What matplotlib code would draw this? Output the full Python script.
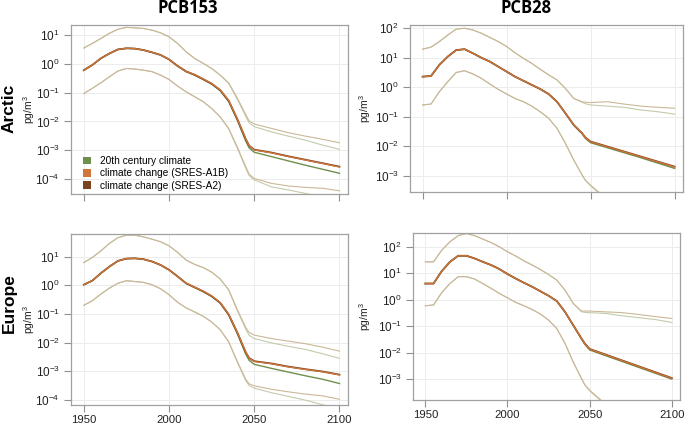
import numpy as np
import matplotlib
matplotlib.use("Agg")
import matplotlib.pyplot as plt
from matplotlib.patches import Patch

# ---------------- data (log10 of pg/m^3) ----------------
YEARS = [1950, 1955, 1960, 1965, 1970, 1975, 1980, 1985, 1990, 1995, 2000,
         2005, 2010, 2015, 2020, 2025, 2030, 2035, 2040, 2045, 2047,
         2050, 2060, 2070, 2080, 2090, 2100]

# Arctic PCB153
arc153_mid_20c = [-0.22, -0.04, 0.19, 0.36, 0.50, 0.54, 0.53, 0.48, 0.40, 0.31, 0.155,
                  -0.08, -0.27, -0.39, -0.54, -0.70, -0.93, -1.31, -1.95, -2.68, -2.92,
                  -3.07, -3.22, -3.37, -3.52, -3.66, -3.80]
arc153_mid_a1b = [-0.22, -0.04, 0.19, 0.36, 0.50, 0.54, 0.53, 0.48, 0.40, 0.31, 0.155,
                  -0.07, -0.26, -0.37, -0.52, -0.68, -0.90, -1.27, -1.90, -2.60, -2.84,
                  -2.99, -3.09, -3.22, -3.34, -3.46, -3.58]
arc153_mid_a2 = [-0.22, -0.04, 0.19, 0.36, 0.50, 0.54, 0.53, 0.48, 0.40, 0.31, 0.155,
                 -0.07, -0.26, -0.38, -0.53, -0.69, -0.91, -1.28, -1.91, -2.61, -2.84,
                 -2.98, -3.08, -3.21, -3.33, -3.45, -3.57]
arc153_up_20c = [0.55, 0.71, 0.88, 1.06, 1.20, 1.27, 1.25, 1.23, 1.17, 1.08, 0.94,
                 0.71, 0.42, 0.19, 0.02, -0.16, -0.39, -0.68, -1.22, -1.82, -2.05,
                 -2.18, -2.36, -2.51, -2.65, -2.82, -2.97]
arc153_up_scen = [0.55, 0.71, 0.88, 1.06, 1.20, 1.27, 1.25, 1.23, 1.17, 1.08, 0.94,
                  0.71, 0.42, 0.19, 0.02, -0.16, -0.39, -0.66, -1.18, -1.76, -1.98,
                  -2.09, -2.24, -2.39, -2.51, -2.62, -2.74]
arc153_lo_20c = [-1.03, -0.85, -0.66, -0.45, -0.25, -0.16, -0.18, -0.22, -0.27, -0.39, -0.54,
                 -0.77, -0.97, -1.14, -1.31, -1.55, -1.84, -2.26, -2.92, -3.62, -3.88,
                 -4.03, -4.27, -4.38, -4.50, -4.62, -4.75]
arc153_lo_scen = [-1.03, -0.85, -0.66, -0.45, -0.25, -0.16, -0.18, -0.22, -0.27, -0.39, -0.54,
                  -0.77, -0.97, -1.14, -1.31, -1.55, -1.84, -2.24, -2.88, -3.57, -3.83,
                  -3.98, -4.15, -4.24, -4.29, -4.32, -4.41]

# Arctic PCB28
arc28_mid_20c = [0.36, 0.38, 0.76, 1.04, 1.26, 1.29, 1.15, 1.00, 0.87, 0.70, 0.53,
                 0.36, 0.22, 0.08, -0.06, -0.23, -0.49, -0.88, -1.29, -1.58, -1.74,
                 -1.88, -2.05, -2.22, -2.39, -2.57, -2.75]
arc28_mid_a1b = [0.36, 0.38, 0.76, 1.04, 1.26, 1.29, 1.15, 1.00, 0.87, 0.70, 0.53,
                 0.36, 0.22, 0.08, -0.06, -0.23, -0.49, -0.88, -1.28, -1.56, -1.72,
                 -1.85, -2.02, -2.19, -2.36, -2.53, -2.70]
arc28_mid_a2 = [0.36, 0.38, 0.76, 1.04, 1.26, 1.29, 1.15, 1.00, 0.87, 0.70, 0.53,
                0.36, 0.22, 0.08, -0.06, -0.23, -0.49, -0.88, -1.28, -1.56, -1.71,
                -1.84, -2.01, -2.18, -2.35, -2.52, -2.69]
arc28_up_20c = [1.29, 1.36, 1.55, 1.77, 1.97, 2.00, 1.94, 1.83, 1.69, 1.55, 1.38,
                1.17, 0.98, 0.81, 0.61, 0.42, 0.25, -0.04, -0.38, -0.51, -0.56,
                -0.60, -0.64, -0.68, -0.77, -0.83, -0.91]
arc28_up_scen = [1.29, 1.36, 1.55, 1.77, 1.97, 2.00, 1.94, 1.83, 1.69, 1.55, 1.38,
                 1.17, 0.98, 0.81, 0.61, 0.42, 0.25, -0.04, -0.38, -0.49, -0.51,
                 -0.52, -0.49, -0.57, -0.64, -0.68, -0.71]
arc28_lo_20c = [-0.60, -0.57, -0.15, 0.19, 0.50, 0.56, 0.45, 0.30, 0.11, -0.07, -0.23,
                -0.38, -0.49, -0.64, -0.83, -1.05, -1.39, -1.90, -2.47, -2.98, -3.17,
                -3.34, -3.85, None, None, None, None]
arc28_lo_scen = [-0.60, -0.57, -0.15, 0.19, 0.50, 0.56, 0.45, 0.30, 0.11, -0.07, -0.23,
                 -0.38, -0.49, -0.64, -0.83, -1.05, -1.39, -1.90, -2.47, -2.98, -3.15,
                 -3.32, -3.80, None, None, None, None]

# Europe PCB153
eur153_mid_20c = [0.02, 0.16, 0.42, 0.65, 0.85, 0.93, 0.94, 0.91, 0.83, 0.71, 0.54,
                  0.31, 0.07, -0.08, -0.22, -0.39, -0.62, -1.04, -1.68, -2.40, -2.62,
                  -2.76, -2.90, -3.03, -3.16, -3.28, -3.43]
eur153_mid_a1b = [0.02, 0.16, 0.42, 0.65, 0.85, 0.93, 0.94, 0.91, 0.83, 0.71, 0.54,
                  0.31, 0.07, -0.07, -0.20, -0.37, -0.60, -1.01, -1.63, -2.33, -2.55,
                  -2.66, -2.74, -2.85, -2.94, -3.02, -3.13]
eur153_mid_a2 = [0.02, 0.16, 0.42, 0.65, 0.85, 0.93, 0.94, 0.91, 0.83, 0.71, 0.54,
                 0.31, 0.07, -0.07, -0.21, -0.38, -0.61, -1.02, -1.64, -2.34, -2.54,
                 -2.65, -2.73, -2.84, -2.93, -3.01, -3.12]
eur153_up_20c = [0.79, 0.97, 1.20, 1.46, 1.66, 1.75, 1.75, 1.69, 1.61, 1.52, 1.38,
                 1.15, 0.88, 0.73, 0.62, 0.46, 0.22, -0.17, -0.88, -1.53, -1.75,
                 -1.86, -2.01, -2.13, -2.24, -2.39, -2.55]
eur153_up_scen = [0.79, 0.97, 1.20, 1.46, 1.66, 1.75, 1.75, 1.69, 1.61, 1.52, 1.38,
                  1.15, 0.88, 0.73, 0.62, 0.46, 0.22, -0.15, -0.84, -1.47, -1.65,
                  -1.74, -1.86, -1.95, -2.04, -2.16, -2.30]
eur153_lo_20c = [-0.70, -0.54, -0.31, -0.10, 0.07, 0.16, 0.13, 0.10, 0.02, -0.12, -0.33,
                 -0.59, -0.79, -0.93, -1.08, -1.28, -1.55, -1.98, -2.68, -3.33, -3.50,
                 -3.59, -3.75, -3.88, -4.01, -4.17, -4.32]
eur153_lo_scen = [-0.70, -0.54, -0.31, -0.10, 0.07, 0.16, 0.13, 0.10, 0.02, -0.12, -0.33,
                  -0.59, -0.79, -0.93, -1.08, -1.28, -1.55, -1.97, -2.65, -3.28, -3.44,
                  -3.51, -3.63, -3.72, -3.80, -3.86, -3.98]

# Europe PCB28
eur28_mid_20c = [0.61, 0.61, 1.08, 1.43, 1.66, 1.66, 1.56, 1.43, 1.31, 1.16, 0.97,
                 0.80, 0.64, 0.49, 0.32, 0.15, -0.05, -0.46, -0.97, -1.48, -1.68,
                 -1.90, -2.12, -2.34, -2.56, -2.78, -3.00]
eur28_mid_a1b = [0.61, 0.61, 1.08, 1.43, 1.66, 1.66, 1.56, 1.43, 1.31, 1.16, 0.97,
                 0.80, 0.64, 0.49, 0.32, 0.15, -0.05, -0.46, -0.96, -1.46, -1.66,
                 -1.87, -2.09, -2.31, -2.53, -2.75, -2.97]
eur28_mid_a2 = [0.61, 0.61, 1.08, 1.43, 1.66, 1.66, 1.56, 1.43, 1.31, 1.16, 0.97,
                0.80, 0.64, 0.49, 0.32, 0.15, -0.05, -0.46, -0.96, -1.46, -1.65,
                -1.86, -2.08, -2.30, -2.52, -2.74, -2.96]
eur28_up_20c = [1.43, 1.43, 1.87, 2.19, 2.42, 2.50, 2.42, 2.29, 2.16, 2.00, 1.81,
                1.65, 1.47, 1.31, 1.14, 0.95, 0.74, 0.36, -0.14, -0.45, -0.48,
                -0.49, -0.52, -0.61, -0.68, -0.75, -0.86]
eur28_up_scen = [1.43, 1.43, 1.87, 2.19, 2.42, 2.50, 2.42, 2.29, 2.16, 2.00, 1.81,
                 1.65, 1.47, 1.31, 1.14, 0.95, 0.74, 0.36, -0.14, -0.43, -0.43,
                 -0.43, -0.46, -0.49, -0.56, -0.64, -0.71]
eur28_lo_20c = [-0.23, -0.20, 0.27, 0.61, 0.87, 0.87, 0.78, 0.61, 0.43, 0.24, 0.07,
                -0.10, -0.23, -0.37, -0.54, -0.77, -1.09, -1.65, -2.36, -2.98, -3.22,
                -3.44, -4.00, None, None, None, None]
eur28_lo_scen = [-0.23, -0.20, 0.27, 0.61, 0.87, 0.87, 0.78, 0.61, 0.43, 0.24, 0.07,
                 -0.10, -0.23, -0.37, -0.54, -0.77, -1.09, -1.65, -2.35, -2.97, -3.20,
                 -3.42, -3.96, None, None, None, None]

COL_TITLES = ["PCB153", "PCB28"]
ROW_TITLES = ["Arctic", "Europe"]
LEGEND_LABELS = ["20th century climate", "climate change (SRES-A1B)",
                 "climate change (SRES-A2)"]
X_TICKS = [1950, 2000, 2050, 2100]

# ---------------- style ----------------
C_20C = "#6f8f4c"
C_A1B = "#d0763a"
C_A2 = "#7a4420"
C_ENV_SCEN = "#cbb898"
C_ENV_20C = "#c3cbab"

plt.rcParams['font.family'] = ['Liberation Sans', 'DejaVu Sans']
plt.rcParams['mathtext.default'] = 'regular'

W, H = 685, 428
fig = plt.figure(figsize=(W / 100, H / 100), dpi=100)


def rect(l, r, t, b):
    return [l / W, 1 - b / H, (r - l) / W, (b - t) / H]


panels = [
    dict(pos=rect(71, 348, 25, 194), ylim=(-4.52, 1.35), yt=range(-4, 2), ylx=37,
         d=(arc153_mid_20c, arc153_mid_a1b, arc153_mid_a2, arc153_up_20c,
            arc153_up_scen, arc153_lo_20c, arc153_lo_scen), xlab=False, legend=True),
    dict(pos=rect(410, 683, 25, 192), ylim=(-3.55, 2.11), yt=range(-3, 3), ylx=373,
         d=(arc28_mid_20c, arc28_mid_a1b, arc28_mid_a2, arc28_up_20c,
            arc28_up_scen, arc28_lo_20c, arc28_lo_scen), xlab=False, legend=False),
    dict(pos=rect(71, 348, 234, 405), ylim=(-4.18, 1.79), yt=range(-4, 2), ylx=37,
         d=(eur153_mid_20c, eur153_mid_a1b, eur153_mid_a2, eur153_up_20c,
            eur153_up_scen, eur153_lo_20c, eur153_lo_scen), xlab=True, legend=False),
    dict(pos=rect(413, 680, 233, 400), ylim=(-3.79, 2.52), yt=range(-3, 3), ylx=373,
         d=(eur28_mid_20c, eur28_mid_a1b, eur28_mid_a2, eur28_up_20c,
            eur28_up_scen, eur28_lo_20c, eur28_lo_scen), xlab=True, legend=False),
]

yrs = np.array(YEARS, dtype=float)


def tolin(v):
    return np.array([np.nan if x is None else 10 ** x for x in v], dtype=float)


for p in panels:
    ax = fig.add_axes(p["pos"])
    ax.set_yscale("log")
    mid20, mida1b, mida2, up20, upsc, lo20, losc = p["d"]
    for arr, c in [(up20, C_ENV_20C), (upsc, C_ENV_SCEN),
                   (lo20, C_ENV_20C), (losc, C_ENV_SCEN)]:
        ax.plot(yrs, tolin(arr), color=c, lw=0.8)
    ax.plot(yrs, tolin(mid20), color=C_20C, lw=1.0)
    ax.plot(yrs, tolin(mida2), color=C_A2, lw=1.3)
    ax.plot(yrs, tolin(mida1b), color=C_A1B, lw=0.9)
    ax.set_xlim(1942.5, 2105)
    ax.set_ylim(10 ** p["ylim"][0], 10 ** p["ylim"][1])
    ax.set_xticks(X_TICKS)
    if p["xlab"]:
        ax.set_xticklabels([str(x) for x in X_TICKS])
    else:
        ax.set_xticklabels([])
    yt = [10.0 ** k for k in p["yt"]]
    ax.set_yticks(yt)
    ax.set_yticklabels([r"$10^{%d}$" % k for k in p["yt"]])
    ax.yaxis.set_minor_locator(matplotlib.ticker.NullLocator())
    ax.tick_params(axis="both", direction="out", length=5, width=0.8,
                   color="#909090", labelsize=8.5, labelcolor="#222222", pad=3)
    ax.tick_params(axis="x", pad=2.5, labelsize=8.2)
    ax.grid(True, color="#ececec", lw=0.7)
    ax.set_axisbelow(True)
    for s in ax.spines.values():
        s.set_color("#a0a0a0")
        s.set_linewidth(0.9)
    ax.set_ylabel(r"pg/m$^3$", fontsize=7.5, color="#222222")
    x0 = p["pos"][0] * W
    wpx = p["pos"][2] * W
    ax.yaxis.set_label_coords((p["ylx"] - x0) / wpx, 0.5)
    if p["legend"]:
        handles = [Patch(facecolor=c, edgecolor="none") for c in (C_20C, C_A1B, C_A2)]
        ax.legend(handles, LEGEND_LABELS, loc="center left", frameon=False,
                  fontsize=7.3, handlelength=0.75, handleheight=0.75,
                  handletextpad=0.9, labelspacing=0.22, borderpad=0,
                  borderaxespad=0, bbox_to_anchor=(0.043, 0.122))

fig.text(188 / W, 1 - 8 / H, COL_TITLES[0], ha="center", va="center",
         fontsize=12, fontweight="bold", family=["Open Sans", "DejaVu Sans"])
fig.text(526 / W, 1 - 8 / H, COL_TITLES[1], ha="center", va="center",
         fontsize=12, fontweight="bold", family=["Open Sans", "DejaVu Sans"])
fig.text(9 / W, 1 - 108 / H, ROW_TITLES[0], ha="center", va="center",
         rotation=90, fontsize=12.5, fontweight="bold")
fig.text(9 / W, 1 - 303 / H, ROW_TITLES[1], ha="center", va="center",
         rotation=90, fontsize=12.5, fontweight="bold")

fig.savefig("out.png", dpi=100)
